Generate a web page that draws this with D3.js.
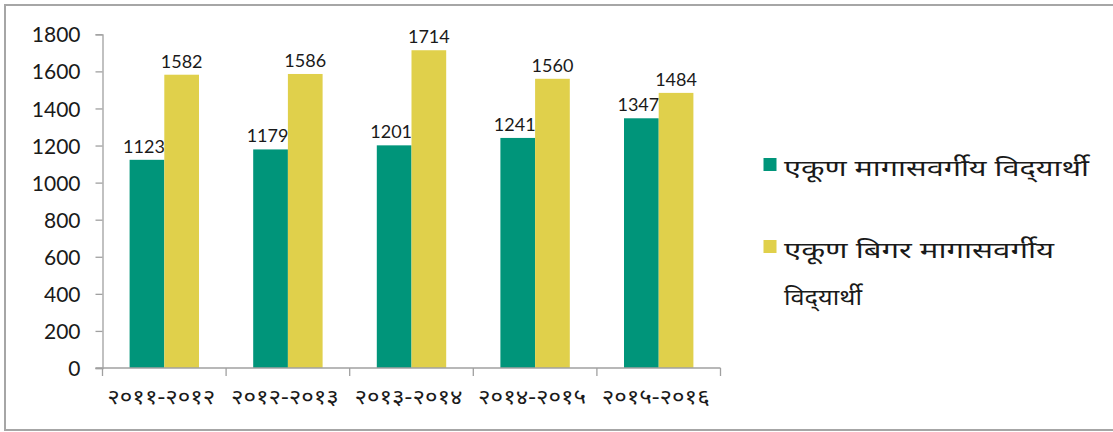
<!DOCTYPE html>
<html>
<head>
<meta charset="utf-8">
<script src="https://cdn.jsdelivr.net/npm/d3@7"></script>
<style>
  html, body { margin: 0; padding: 0; background: #fff; }
  svg { display: block; }
</style>
</head>
<body>
<svg id="chart" width="1113" height="432"></svg>
<script>
// ---- Data ----
const categories = ["२०११-२०१२", "२०१२-२०१३", "२०१३-२०१४", "२०१४-२०१५", "२०१५-२०१६"];
const seriesNames = ["एकूण मागासवर्गीय विद्\u200Cयार्थी", "एकूण बिगर मागासवर्गीय विद्\u200Cयार्थी"];
const backwardValues = [1123, 1179, 1201, 1241, 1347];
const nonBackwardValues = [1582, 1586, 1714, 1560, 1484];
const yTicks = [0, 200, 400, 600, 800, 1000, 1200, 1400, 1600, 1800];
const legendLines = [["एकूण मागासवर्गीय विद्\u200Cयार्थी"], ["एकूण बिगर मागासवर्गीय", "विद्\u200Cयार्थी"]];
const legendLineWidths = [[305], [270, 78]];
const colors = ["#00957A", "#E0D04B"];

const svg = d3.select("#chart");
const numFont = "Lato, 'Open Sans', sans-serif";
const devFont = "'Noto Sans', 'Noto Sans Devanagari', 'Lohit Devanagari', 'Mangal', sans-serif";

// Frame
svg.append("rect")
  .attr("x", 5).attr("y", 5).attr("width", 1130).attr("height", 425)
  .attr("fill", "none").attr("stroke", "#A6A6A6").attr("stroke-width", 2);

const plot = { left: 102.5, right: 720.5, top: 34.3, bottom: 368 };

const x = d3.scaleBand().domain(categories).range([plot.left, plot.right]).padding(0);
const bw = x.bandwidth();
const pair = bw * 0.5615;
const xs = d3.scaleBand().domain([0, 1]).range([(bw - pair) / 2, (bw + pair) / 2]).padding(0);
const y = d3.scaleLinear().domain([0, 1800]).range([plot.bottom, plot.top]);

const rows = categories.map((c, i) => ({ cat: c, vals: [backwardValues[i], nonBackwardValues[i]] }));

// Bars
const g = svg.append("g");
rows.forEach(r => {
  r.vals.forEach((v, s) => {
    g.append("rect")
      .attr("x", x(r.cat) + xs(s))
      .attr("y", y(v))
      .attr("width", xs.bandwidth())
      .attr("height", y(0) - y(v))
      .attr("fill", colors[s]);
    g.append("text")
      .attr("x", x(r.cat) + xs(s) + xs.bandwidth() / 2 - (s === 0 ? 3 : 0))
      .attr("y", y(v) - 7)
      .attr("text-anchor", "middle")
      .attr("font-family", numFont)
      .attr("font-size", 18)
      .attr("fill", "#1a1a1a")
      .text(v);
  });
});

// Y axis
const yAxis = d3.axisLeft(y).tickValues(yTicks).tickSize(7).tickPadding(15).tickFormat(d3.format("d"));
const ya = svg.append("g").attr("transform", `translate(${plot.left},0)`).call(yAxis);
ya.select(".domain").attr("stroke", "#A0A0A0").attr("stroke-width", 1.3);
ya.selectAll(".tick line").attr("stroke", "#A0A0A0").attr("stroke-width", 1.3);
ya.selectAll(".tick text")
  .attr("font-family", numFont).attr("font-size", 21).attr("fill", "#1a1a1a")
  .attr("dy", "0.36em");

// X axis
svg.append("line")
  .attr("x1", plot.left - 7).attr("x2", plot.right)
  .attr("y1", y(0)).attr("y2", y(0))
  .attr("stroke", "#A0A0A0").attr("stroke-width", 1.3);
const boundaries = categories.map(c => x(c)).concat([x(categories[categories.length - 1]) + bw]);
svg.append("g").selectAll("line").data(boundaries).join("line")
  .attr("x1", d => d).attr("x2", d => d)
  .attr("y1", y(0)).attr("y2", y(0) + 8)
  .attr("stroke", "#A0A0A0").attr("stroke-width", 1.3);
svg.append("g").selectAll("text").data(categories).join("text")
  .attr("x", d => x(d) + bw / 2 - 57)
  .attr("y", 404)
  .attr("font-family", devFont)
  .attr("font-size", 21)
  .attr("fill", "#1a1a1a")
  .attr("textLength", 108)
  .attr("lengthAdjust", "spacingAndGlyphs")
  .text(d => d);

// Legend
const legendY = [170, 252];
legendLines.forEach((lines, i) => {
  svg.append("rect")
    .attr("x", 763.5).attr("y", legendY[i] - 12)
    .attr("width", 13).attr("height", 13)
    .attr("fill", colors[i]);
  lines.forEach((ln, j) => {
    svg.append("text")
      .attr("x", 784)
      .attr("y", legendY[i] + 6 + j * 47)
      .attr("font-family", devFont)
      .attr("font-size", 23)
      .attr("fill", "#1a1a1a")
      .attr("textLength", legendLineWidths[i][j])
      .attr("lengthAdjust", "spacingAndGlyphs")
      .text(ln);
  });
});
</script>
</body>
</html>
